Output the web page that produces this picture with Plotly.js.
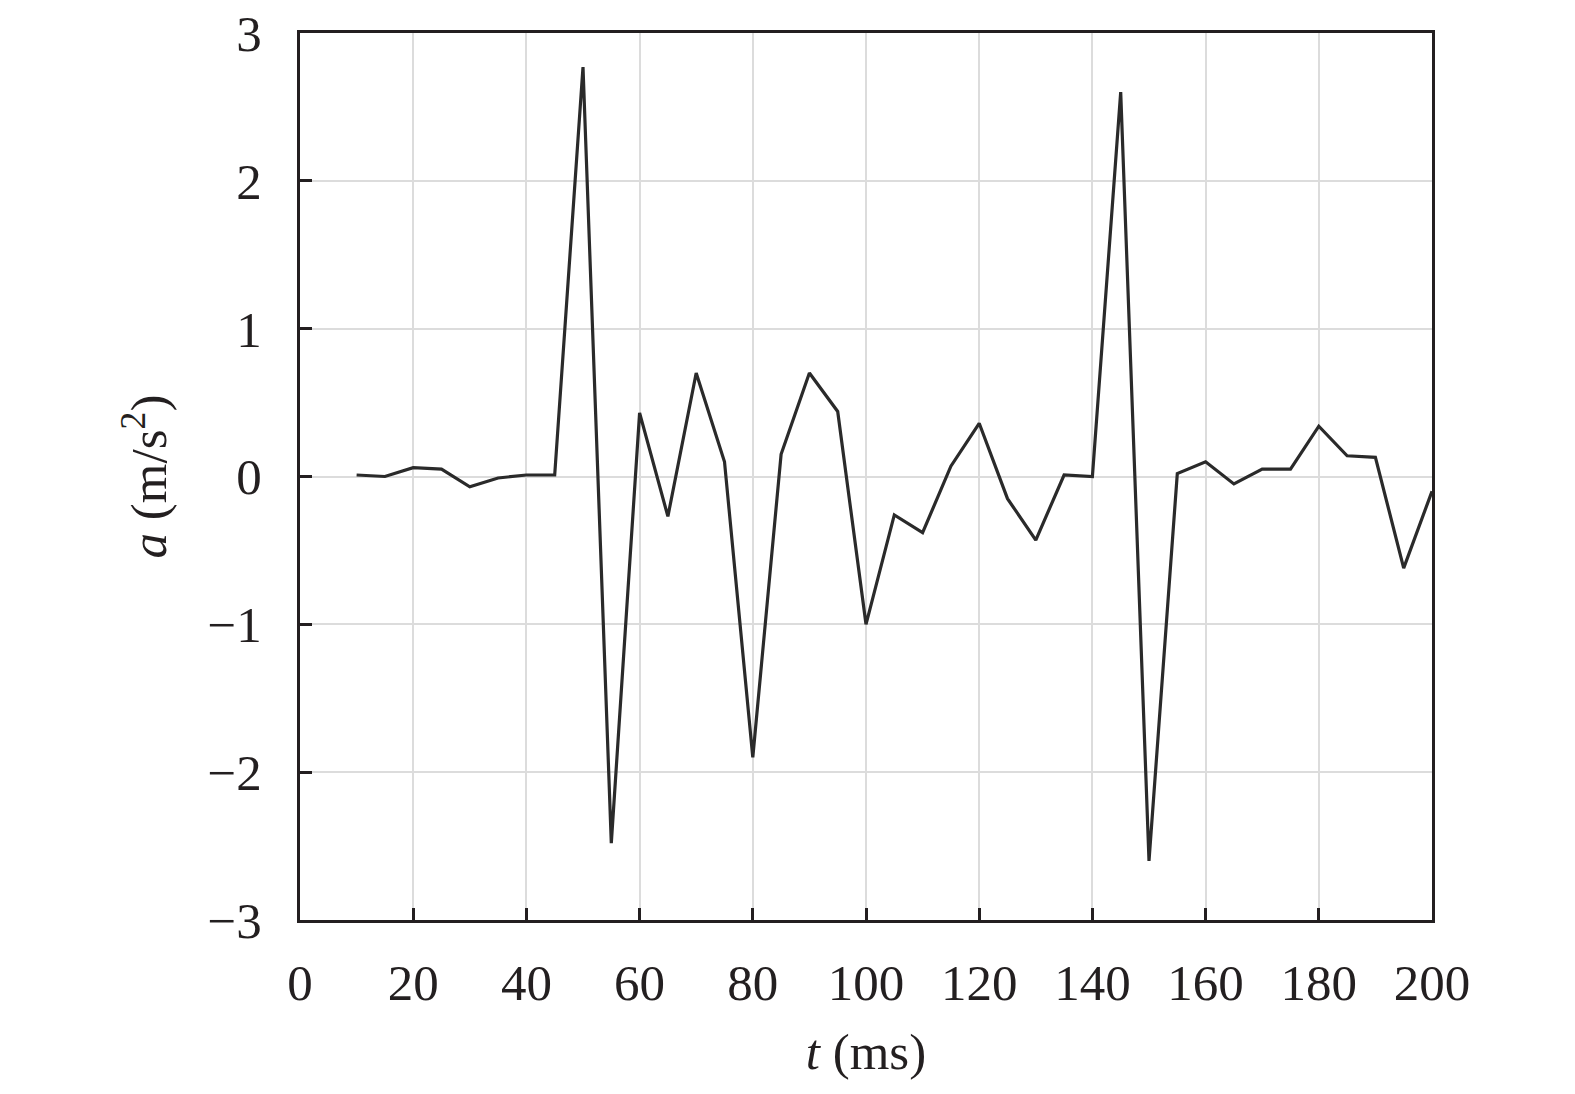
<!DOCTYPE html>
<html>
<head>
<meta charset="utf-8">
<script src="https://cdn.plot.ly/plotly-3.0.1.min.js"></script>
<style>html,body{margin:0;padding:0;background:#fff;}#chart{width:1575px;height:1094px;}</style>
</head>
<body>
<div id="chart"></div>
<script>
const timeMs = [10, 15, 20, 25, 30, 35, 40, 45, 50, 55, 60, 65, 70, 75, 80, 85, 90, 95, 100, 105,
                110, 115, 120, 125, 130, 135, 140, 145, 150, 155, 160, 165, 170, 175, 180, 185, 190, 195, 200];
const accel = [0.01, 0.00, 0.06, 0.05, -0.07, -0.01, 0.01, 0.01, 2.77, -2.48,
               0.43, -0.27, 0.70, 0.10, -1.90, 0.15, 0.70, 0.44, -1.00, -0.26,
               -0.38, 0.07, 0.36, -0.15, -0.43, 0.01, 0.00, 2.60, -2.60, 0.02,
               0.10, -0.05, 0.05, 0.05, 0.34, 0.14, 0.13, -0.62, -0.10];
const xTicks = [0, 20, 40, 60, 80, 100, 120, 140, 160, 180, 200];
const yTicks = [-3, -2, -1, 0, 1, 2, 3];

const fontFamily = '"Liberation Serif", "Times New Roman", serif';
const textColor = '#231f20';

const trace = {
  x: timeMs,
  y: accel,
  type: 'scatter',
  mode: 'lines',
  line: {color: '#2a2a2a', width: 3.2},
  hoverinfo: 'x+y',
  showlegend: false
};

const layout = {
  width: 1575,
  height: 1094,
  paper_bgcolor: '#ffffff',
  plot_bgcolor: '#ffffff',
  margin: {l: 300, r: 143, t: 33, b: 174, pad: 0},
  font: {family: fontFamily, size: 50, color: textColor},
  xaxis: {
    range: [0, 200],
    tickvals: xTicks,
    ticktext: xTicks.map(String),
    ticks: 'inside',
    ticklen: 12,
    tickwidth: 3,
    tickcolor: textColor,
    showline: true,
    linecolor: textColor,
    linewidth: 3,
    mirror: true,
    showgrid: true,
    gridcolor: '#dcdcdc',
    gridwidth: 2,
    zeroline: false,
    ticklabelstandoff: 16,
    tickfont: {family: fontFamily, size: 51, color: textColor},
    title: {text: '<i>t</i> (ms)', standoff: 24, font: {family: fontFamily, size: 51, color: textColor}},
    automargin: false
  },
  yaxis: {
    range: [-3, 3],
    tickvals: yTicks,
    ticks: 'inside',
    ticklen: 12,
    tickwidth: 3,
    tickcolor: textColor,
    showline: true,
    linecolor: textColor,
    linewidth: 3,
    mirror: true,
    showgrid: true,
    gridcolor: '#dcdcdc',
    gridwidth: 2,
    zeroline: false,
    ticklabelstandoff: 25,
    tickfont: {family: fontFamily, size: 51, color: textColor},
    title: {text: '<i>a</i> (m/s<sup>2</sup>)', standoff: 25, font: {family: fontFamily, size: 51, color: textColor}},
    automargin: false
  }
};

Plotly.newPlot('chart', [trace], layout, {displayModeBar: false, staticPlot: true});
</script>
</body>
</html>
